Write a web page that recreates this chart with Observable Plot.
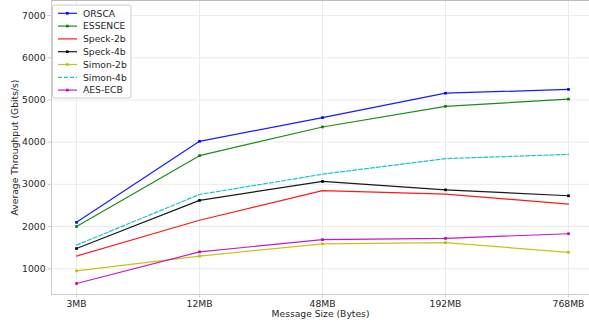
<!DOCTYPE html>
<html>
<head>
<meta charset="utf-8">
<script src="https://cdn.jsdelivr.net/npm/d3@7"></script>
<script src="https://cdn.jsdelivr.net/npm/@observablehq/plot@0.6"></script>
<style>
  html, body { margin: 0; padding: 0; background: #fff; overflow: hidden; }
  svg { display: block; }
</style>
</head>
<body>
<div id="chart"></div>
<script>
// Message sizes on the x axis
const sizes = ["3MB", "12MB", "48MB", "192MB", "768MB"];
const seriesNames = ["ORSCA", "ESSENCE", "Speck-2b", "Speck-4b", "Simon-2b", "Simon-4b", "AES-ECB"];

// Average throughput (Gbits/s) per message size
const orsca   = [2100, 4020, 4580, 5160, 5250];
const essence = [2000, 3680, 4360, 4850, 5020];
const speck2b = [1300, 2150, 2850, 2770, 2530];
const speck4b = [1480, 2620, 3070, 2870, 2730];
const simon2b = [950, 1300, 1590, 1620, 1390];
const simon4b = [1560, 2760, 3240, 3610, 3710];
const aesEcb  = [650, 1400, 1690, 1720, 1830];

const yTicks = [1000, 2000, 3000, 4000, 5000, 6000, 7000];

const seriesValues = [orsca, essence, speck2b, speck4b, simon2b, simon4b, aesEcb];

// Line styling per series
const colors = ["#0000ff", "#008000", "#ff0000", "#000000", "#bfbf00", "#00bfbf", "#bf00bf"];
const dashed = new Set(["Simon-4b"]);
const marked = new Set(["ORSCA", "ESSENCE", "Speck-4b", "Simon-2b", "AES-ECB"]);

const rows = seriesNames.flatMap((name, i) =>
  seriesValues[i].map((v, j) => ({series: name, size: sizes[j], value: v}))
);

const font = "DejaVu Sans, sans-serif";
const W = 589, H = 325;
const left = 51, bottom = 294;

const plot = Plot.plot({
  width: W,
  height: H,
  marginLeft: left,
  marginRight: 0,
  marginTop: 0,
  marginBottom: H - bottom,
  style: {fontFamily: font, fontSize: "9.2px", color: "#262626", background: "#fff"},
  x: {type: "point", domain: sizes, range: [left, 593.7], padding: 0.2},
  y: {domain: [390, 7345], range: [bottom, 0.5]},
  color: {domain: seriesNames, range: colors},
  marks: [
    Plot.gridY(yTicks, {stroke: "#ebebeb", strokeOpacity: 1}),
    Plot.gridX(sizes, {stroke: "#ebebeb", strokeOpacity: 1}),
    Plot.frame({anchor: "left", stroke: "#cccccc"}),
    Plot.frame({anchor: "bottom", stroke: "#cccccc"}),
    Plot.frame({anchor: "top", stroke: "#bbbbbb"}),
    Plot.axisY(yTicks, {
      tickSize: 3.5, tickPadding: 2.5, stroke: "#cccccc", fill: "#262626", tickFormat: d => String(d),
      label: "Average Throughput (Gbits/s)", labelAnchor: "center", labelArrow: "none", labelOffset: 40
    }),
    Plot.axisX(sizes, {
      tickSize: 3.5, tickPadding: 2, stroke: "#cccccc", fill: "#262626",
      label: "Message Size (Bytes)", labelAnchor: "center", labelArrow: "none", labelOffset: 22
    }),
    Plot.line(rows.filter(d => !dashed.has(d.series)), {
      x: "size", y: "value", z: "series", stroke: "series", strokeWidth: 1.2, strokeOpacity: 0.9
    }),
    Plot.line(rows.filter(d => dashed.has(d.series)), {
      x: "size", y: "value", z: "series", stroke: "series", strokeWidth: 1.2, strokeOpacity: 0.9,
      strokeDasharray: "4,2"
    }),
    Plot.dot(rows.filter(d => marked.has(d.series)), {
      x: "size", y: "value", fill: "series", symbol: "square", r: 1.5
    })
  ]
});

document.getElementById("chart").append(plot);

// Legend box in the upper-left corner of the plot area
const svg = d3.select(plot);
const lg = svg.append("g").attr("font-family", font).attr("font-size", 9.2).attr("text-anchor", "start");
lg.append("rect")
  .attr("x", 52.5).attr("y", 5).attr("width", 78.5).attr("height", 93)
  .attr("rx", 2).attr("fill", "#fff").attr("fill-opacity", 0.85)
  .attr("stroke", "#cccccc");
seriesNames.forEach((name, i) => {
  const y = 13.3 + i * 12.8;
  const c = colors[i];
  lg.append("line")
    .attr("x1", 58).attr("x2", 77).attr("y1", y).attr("y2", y)
    .attr("stroke", c).attr("stroke-width", 1.2).attr("stroke-opacity", 0.9)
    .attr("stroke-dasharray", dashed.has(name) ? "4,2" : null);
  if (marked.has(name)) {
    lg.append("rect").attr("x", 66).attr("y", y - 1.3).attr("width", 2.6).attr("height", 2.6).attr("fill", c);
  }
  lg.append("text").attr("x", 83).attr("y", y).attr("dy", "0.35em").attr("fill", "#262626").text(name);
});
</script>
</body>
</html>
